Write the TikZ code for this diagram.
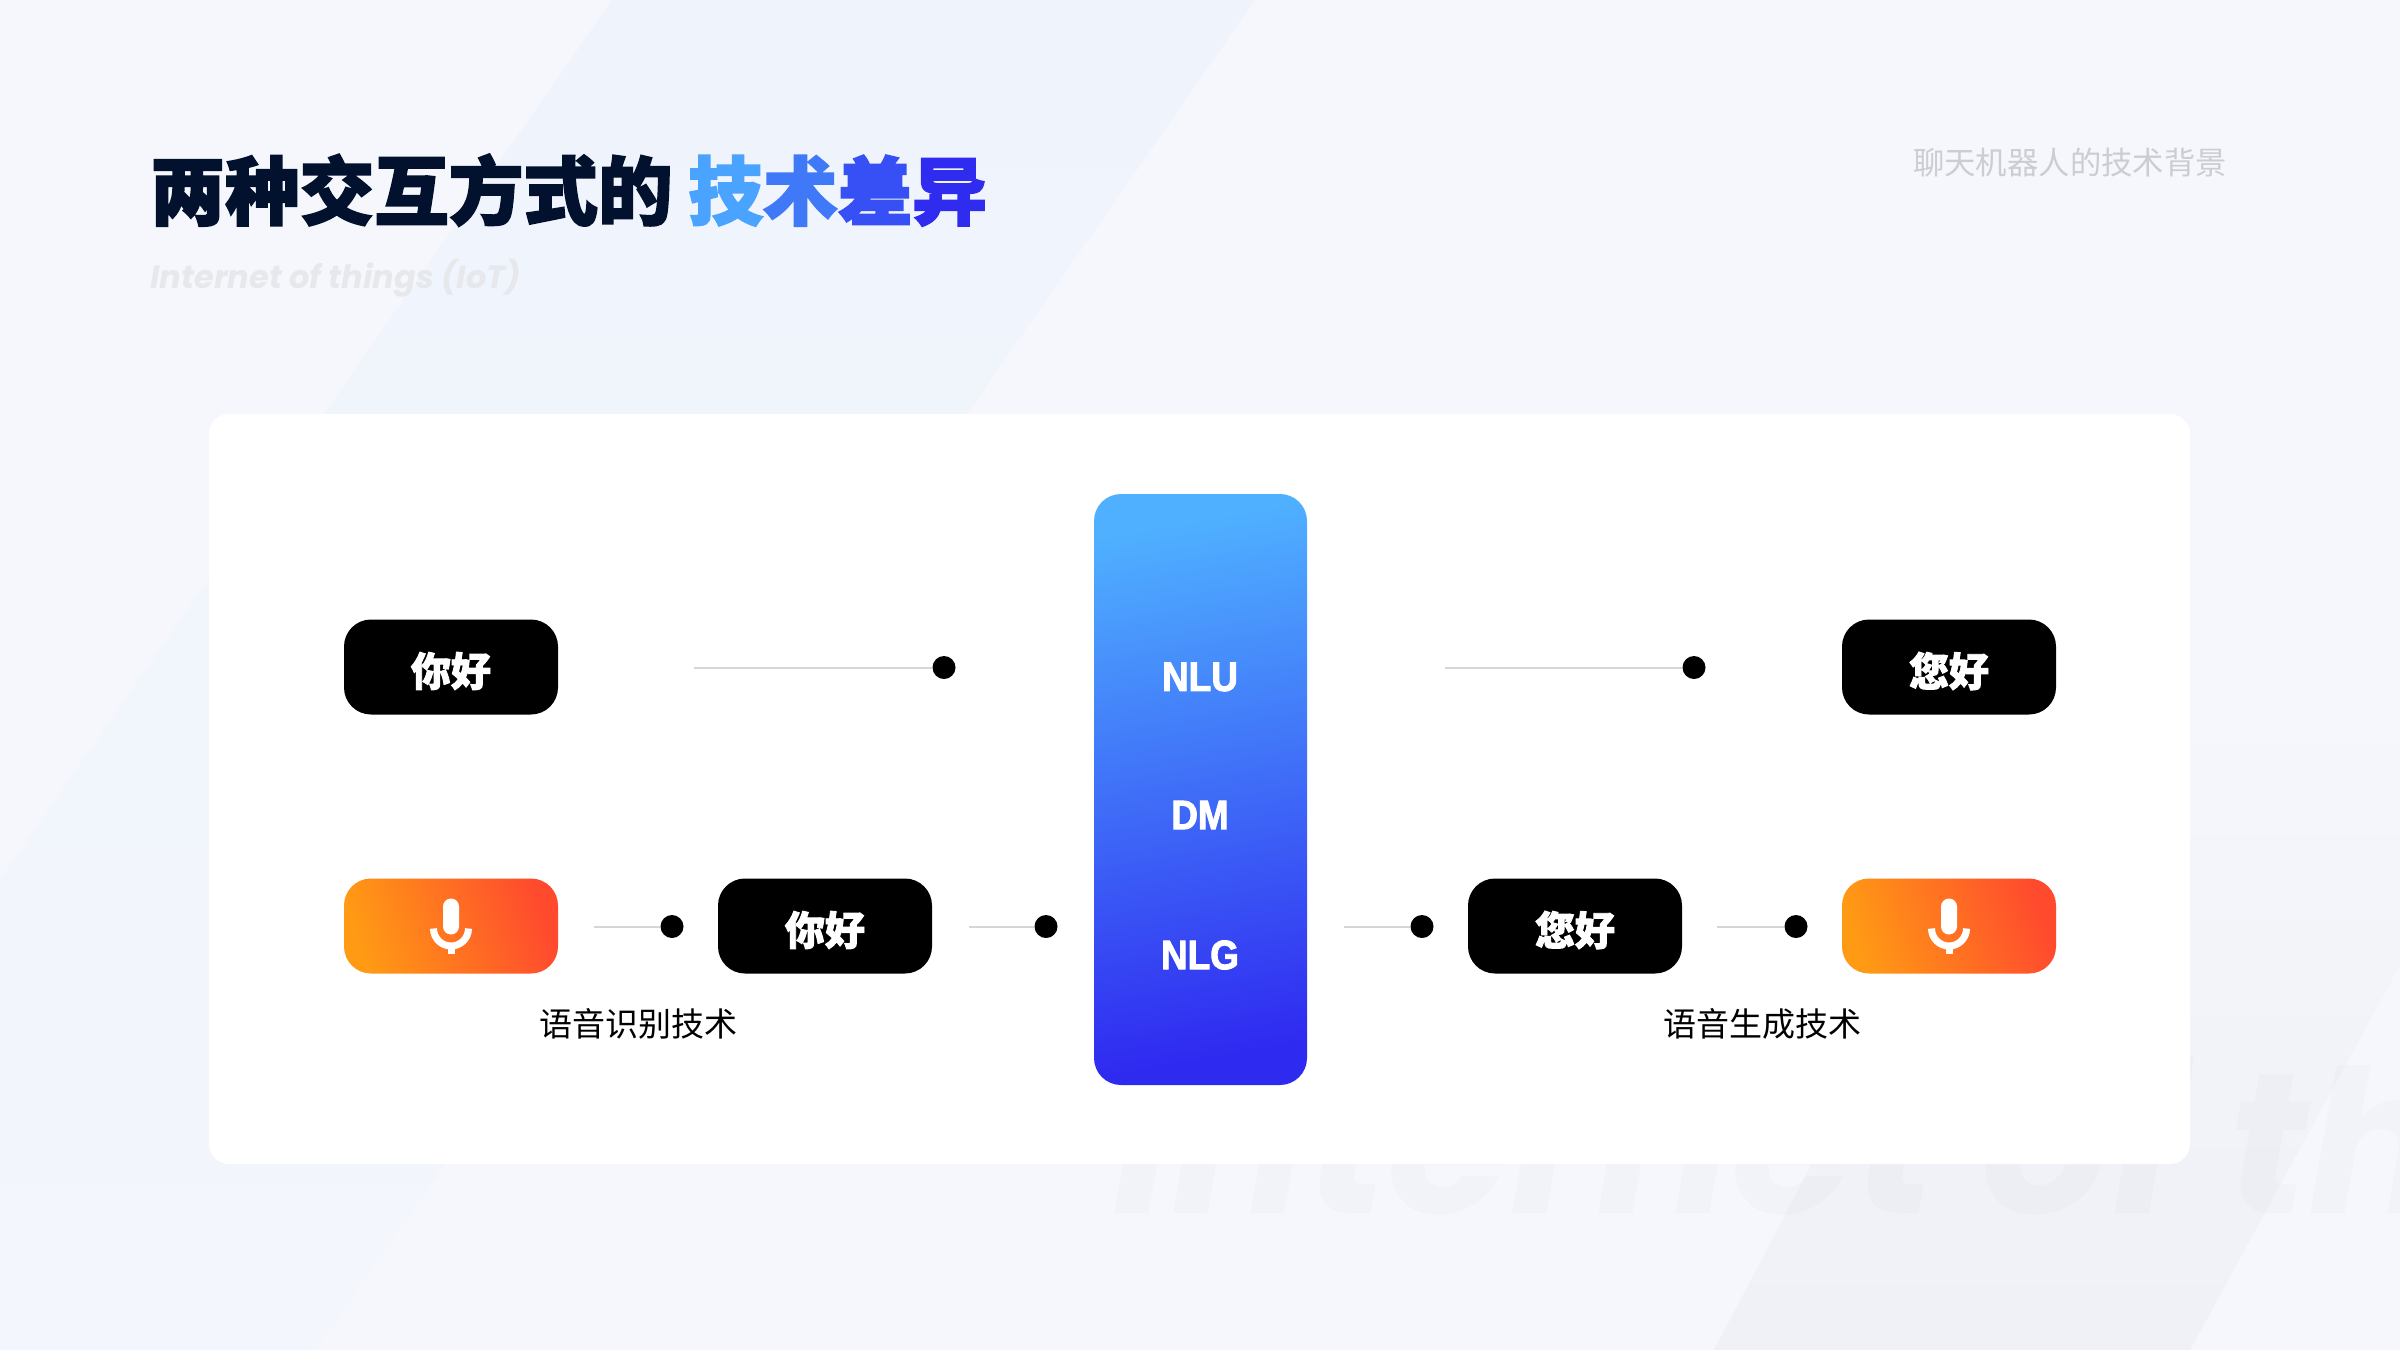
\documentclass[tikz,border=0pt]{standalone}
\usepackage{fontspec}
\usetikzlibrary{shadings}
\newfontfamily\cjkh[FakeBold=2.2]{Noto Sans CJK SC Black}
\newfontfamily\cjkt[FakeBold=2.3]{Noto Sans CJK SC Black}
\newfontfamily\cjkr{Noto Sans CJK SC}
\newfontfamily\latb[BoldFeatures={FakeStretch=0.9,FakeBold=2.4}]{Liberation Sans}
\newfontfamily\popp[BoldFont=* Bold,ItalicFont=* Italic,BoldItalicFont=* Bold Italic]{Poppins}
\definecolor{bgc}{HTML}{F5F7FC}
\definecolor{bandb}{HTML}{EFF4FC}
\definecolor{bandb2}{HTML}{F3F6FC}
\definecolor{bandg}{HTML}{F0F1F6}
\definecolor{navy}{HTML}{02122E}
\definecolor{subg}{HTML}{E6E8EC}
\definecolor{topg}{HTML}{CBCDD2}
\definecolor{org1}{HTML}{FF9A14}
\definecolor{org2}{HTML}{FF4A2E}
\definecolor{blu1}{HTML}{4FB0FF}
\definecolor{blu2}{HTML}{2F2AF0}
\definecolor{linec}{HTML}{D6D6D6}
\tikzset{
  x=0.5pt,y=-0.5pt,
  pill/.style={rounded corners=13.5pt,minimum width=107pt,minimum height=47.5pt,inner sep=0pt},
  blackpill/.style={pill,fill=black},
  orangepill/.style={pill,top color=org2,bottom color=org1,shading angle=-72},
  greet/.style={inner sep=0pt,text=white,font={\cjkh\fontsize{20}{20}\selectfont}},
  conn/.style={draw=linec,line width=1pt},
  dotn/.style={circle,fill=black,minimum size=11.5pt,inner sep=0pt},
  captiontext/.style={inner sep=0pt,text=black,font={\cjkr\fontsize{16.5}{16.5}\selectfont}},
  tech/.style={inner sep=0pt,text=white,font={\latb\bfseries\fontsize{20.5}{20.5}\selectfont}},
  micicon/.pic={
    \fill[white,rounded corners=4pt] (-8,-27.5) rectangle (8,8.5);
    \draw[white,line width=3.5pt] (-17.5,2.5) arc[start angle=180,end angle=0,radius=17.5];
    \draw[white,line width=3.5pt] (0,19) -- (0,27.5);
  }
}
\begin{document}
\begin{tikzpicture}
\useasboundingbox (0,0) rectangle (2400,1350);
\begin{scope}
\clip (0,0) rectangle (2400,1350);
\fill[bgc] (0,0) rectangle (2400,1350);
\shade[top color=bandb,bottom color=bandb2] (612,0) -- (1255,0) -- (315,1350) -- (0,1350) -- (0,880) -- cycle;
\shade[top color=bgc,bottom color=bandg,middle color=bandg!60!bgc] (1714,1350) -- (2190,1350) -- (2400,965) -- (2400,700) -- (2030,750) -- cycle;
\node[anchor=base west,inner sep=0pt,text=black,text opacity=0.017,font={\popp\bfseries\itshape\fontsize{100}{100}\selectfont}] (ghost) at (1112,1213) {Internet of things (IoT)};
\end{scope}

\node[anchor=base west,inner sep=0pt,text=navy,font={\cjkt\fontsize{37.3}{37.3}\selectfont}] (title) at (150,219) {两种交互方式的};
\node[anchor=base west,inner sep=0pt,font={\cjkt\fontsize{37.3}{37.3}\selectfont}] (titleb) at (688,219) {\textcolor[HTML]{4AA3FF}{技}\textcolor[HTML]{4079F8}{术}\textcolor[HTML]{3750F5}{差}\textcolor[HTML]{2F2CF0}{异}};
\node[anchor=base west,inner sep=0pt,text=subg,font={\popp\bfseries\itshape\fontsize{16}{16}\selectfont}] (subtitle) at (150,288) {Internet of things (IoT)};
\node[inner sep=0pt,text=topg,font={\cjkr\fontsize{15.7}{15.7}\selectfont}] (toptag) at (2070,163) {聊天机器人的技术背景};

\node[fill=white,rounded corners=10pt,minimum width=990.5pt,minimum height=375pt,inner sep=0pt] (card) at (1199.5,789) {};

\node[rounded corners=13.5pt,minimum width=106.5pt,minimum height=295.5pt,inner sep=0pt,top color=blu1,bottom color=blu2,shading angle=10] (core) at (1200.5,789.5) {};
\node[tech] (nlu) at (1200,677) {NLU};
\node[tech] (dm) at (1200,815) {DM};
\node[tech] (nlg) at (1200,955) {NLG};

\node[blackpill] (b1) at (451,667) {};
\node[blackpill] (b2) at (825,926) {};
\node[blackpill] (b3) at (1575,926) {};
\node[blackpill] (b4) at (1949,667) {};
\node[orangepill] (o1) at (451,926) {};
\node[orangepill] (o2) at (1949,926) {};
\pic at (o1) {micicon};
\pic at (o2) {micicon};

\node[greet] (t1) at (451,671) {你好};
\node[greet] (t2) at (825,930) {你好};
\node[greet] (t3) at (1575,930) {您好};
\node[greet] (t4) at (1949,671) {您好};

\foreach \nm/\lx/\dx/\yy in {a/694/944/667.5,b/1445/1694/667.5,c/594/672/926.5,d/969/1046/926.5,e/1344/1422/926.5,f/1717/1796/926.5}{
  \coordinate (l\nm) at (\lx,\yy);
  \node[dotn] (d\nm) at (\dx,\yy) {};
  \draw[conn] (l\nm) -- (d\nm);
}

\node[captiontext] (c1) at (638,1024) {语音识别技术};
\node[captiontext] (c2) at (1762,1024) {语音生成技术};
\end{tikzpicture}
\end{document}
